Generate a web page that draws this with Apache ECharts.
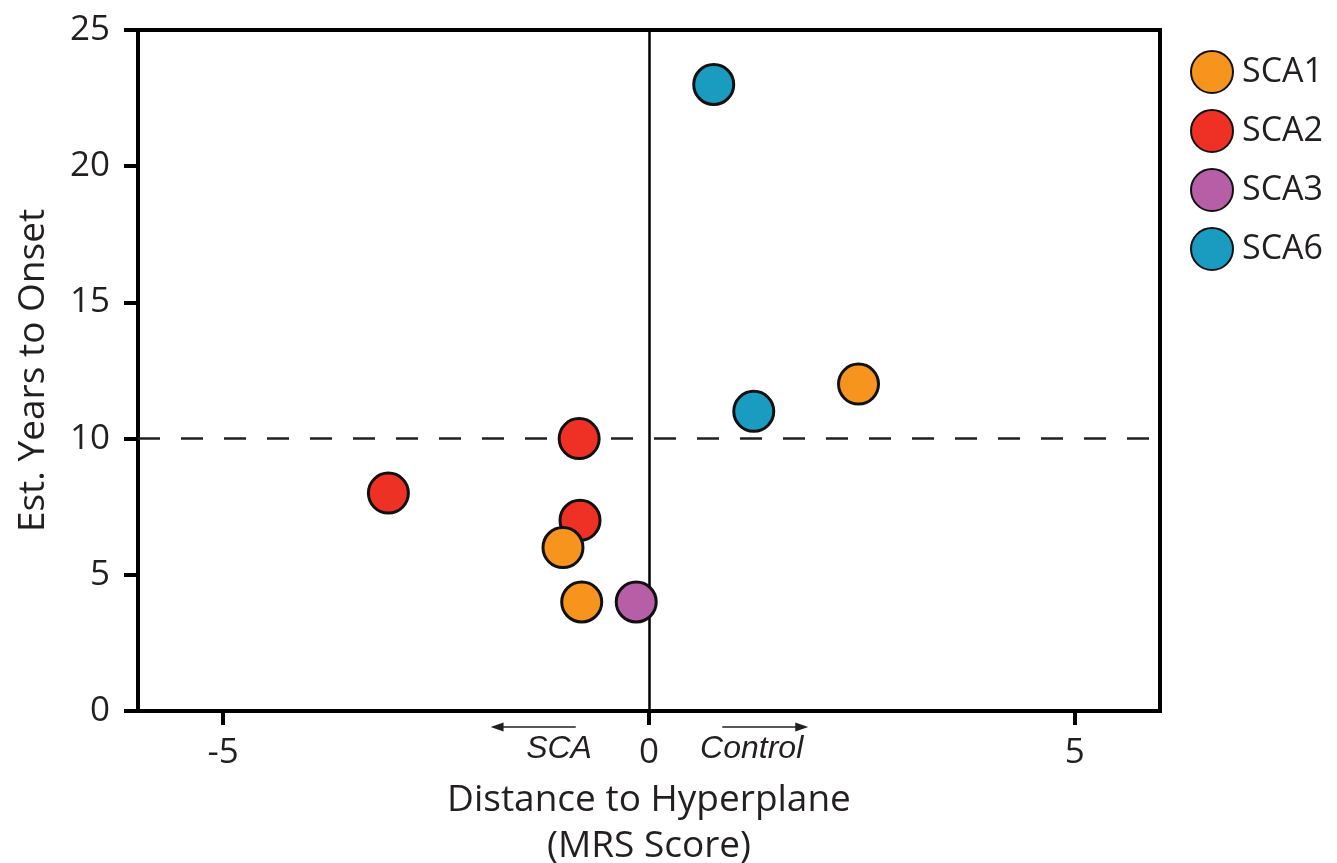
<!DOCTYPE html>
<html>
<head>
<meta charset="utf-8">
<script src="https://cdn.jsdelivr.net/npm/echarts@6/dist/echarts.min.js"></script>
<style>
  html, body { margin: 0; padding: 0; background: #fff; }
  #main { width: 1337px; height: 863px; }
</style>
</head>
<body>
<div id="main"></div>
<script>
  // data: [distance to hyperplane, est. years to onset]
  const sca1 = [[2.46, 12], [-1.01, 6], [-0.79, 4]];
  const sca2 = [[-0.82, 10], [-3.06, 8], [-0.81, 7]];
  const sca3 = [[-0.15, 4]];
  const sca6 = [[0.76, 23], [1.23, 11]];
  const xTicks = [-5, 0, 5];
  const onsetCut = 10;

  const font = '"Open Sans", "Noto Sans", sans-serif';
  const italic = 'italic 32px "Liberation Sans", Arial, sans-serif';
  let myChart = echarts.init(document.getElementById('main'));

  function pointSeries(name, data, color, z) {
    return {
      name: name,
      type: 'scatter',
      data: data,
      symbol: 'circle',
      symbolSize: 40,
      z: z,
      itemStyle: { color: color, borderColor: '#111', borderWidth: 3, opacity: 1 },
      emphasis: { disabled: true }
    };
  }

  myChart.setOption({
    animation: false,
    grid: {
      left: 138, top: 30, right: 177, bottom: 152,
      outerBoundsMode: 'none',
      containLabel: false,
      show: true, borderColor: '#000', borderWidth: 4
    },
    legend: {
      orient: 'vertical',
      left: 1185, top: 45,
      itemWidth: 42, itemHeight: 42, itemGap: 15,
      icon: 'circle',
      textStyle: { fontFamily: font, fontSize: 34, color: '#231f20', padding: [0, 0, 0, 4] },
      data: ['SCA1', 'SCA2', 'SCA3', 'SCA6']
    },
    xAxis: {
      type: 'value',
      min: -6, max: 6,
      splitLine: { show: false },
      axisLine: { onZero: false, lineStyle: { color: '#000', width: 4 } },
      axisTick: { customValues: xTicks, length: 14, lineStyle: { color: '#000', width: 4 } },
      axisLabel: { customValues: xTicks, margin: 25, fontFamily: font, fontSize: 35, color: '#231f20' },
      name: 'Distance to Hyperplane\n(MRS Score)',
      nameLocation: 'middle',
      nameGap: 66,
      nameTextStyle: { fontFamily: font, fontSize: 37, color: '#231f20', lineHeight: 46 }
    },
    yAxis: {
      type: 'value',
      min: 0, max: 25, interval: 5,
      splitLine: { show: false },
      axisLine: { onZero: false, lineStyle: { color: '#000', width: 4 } },
      axisTick: { length: 14, lineStyle: { color: '#000', width: 4 } },
      axisLabel: { margin: 28, fontFamily: font, fontSize: 35, color: '#231f20' },
      name: 'Est. Years to Onset',
      nameLocation: 'middle',
      nameGap: 86,
      nameTextStyle: { fontFamily: font, fontSize: 37, color: '#231f20' }
    },
    series: [
      {
        // reference lines: hyperplane (x = 0) and 10-year cut
        type: 'scatter',
        data: [],
        silent: true,
        markLine: {
          z: 1,
          silent: true,
          symbol: 'none',
          label: { show: false },
          emphasis: { disabled: true },
          data: [
            { xAxis: 0, lineStyle: { color: '#000', width: 2.5, type: 'solid' } },
            { yAxis: onsetCut, lineStyle: { color: '#231f20', width: 2.5, type: [22, 21] } }
          ]
        }
      },
      pointSeries('SCA1', sca1, '#f7941d', 5),
      pointSeries('SCA2', sca2, '#ee3124', 4),
      pointSeries('SCA3', sca3, '#b75fa6', 4),
      pointSeries('SCA6', sca6, '#1a9bc0', 4)
    ]
  });

  // direction arrows under the x axis
  function arrow(x0, x1, yPx) {
    let p0 = myChart.convertToPixel({ gridIndex: 0 }, [x0, 0])[0];
    let p1 = myChart.convertToPixel({ gridIndex: 0 }, [x1, 0])[0];
    let dir = p1 > p0 ? 1 : -1;
    return [
      { type: 'line', shape: { x1: p0, y1: yPx, x2: p1 - dir * 8, y2: yPx }, style: { stroke: '#231f20', lineWidth: 1.5 } },
      { type: 'polygon', shape: { points: [[p1, yPx], [p1 - dir * 13, yPx - 4.5], [p1 - dir * 13, yPx + 4.5]] }, style: { fill: '#231f20' } }
    ];
  }
  let sx = myChart.convertToPixel({ gridIndex: 0 }, [-0.67, 0])[0];
  let cx = myChart.convertToPixel({ gridIndex: 0 }, [0.6, 0])[0];
  myChart.setOption({
    graphic: arrow(-0.86, -1.86, 727).concat(arrow(0.86, 1.87, 727)).concat([
      { type: 'text', x: sx, y: 749, style: { text: 'SCA', font: italic, fill: '#231f20', align: 'right', verticalAlign: 'middle' } },
      { type: 'text', x: cx, y: 749, style: { text: 'Control', font: italic, fill: '#231f20', align: 'left', verticalAlign: 'middle' } }
    ])
  });
</script>
</body>
</html>
